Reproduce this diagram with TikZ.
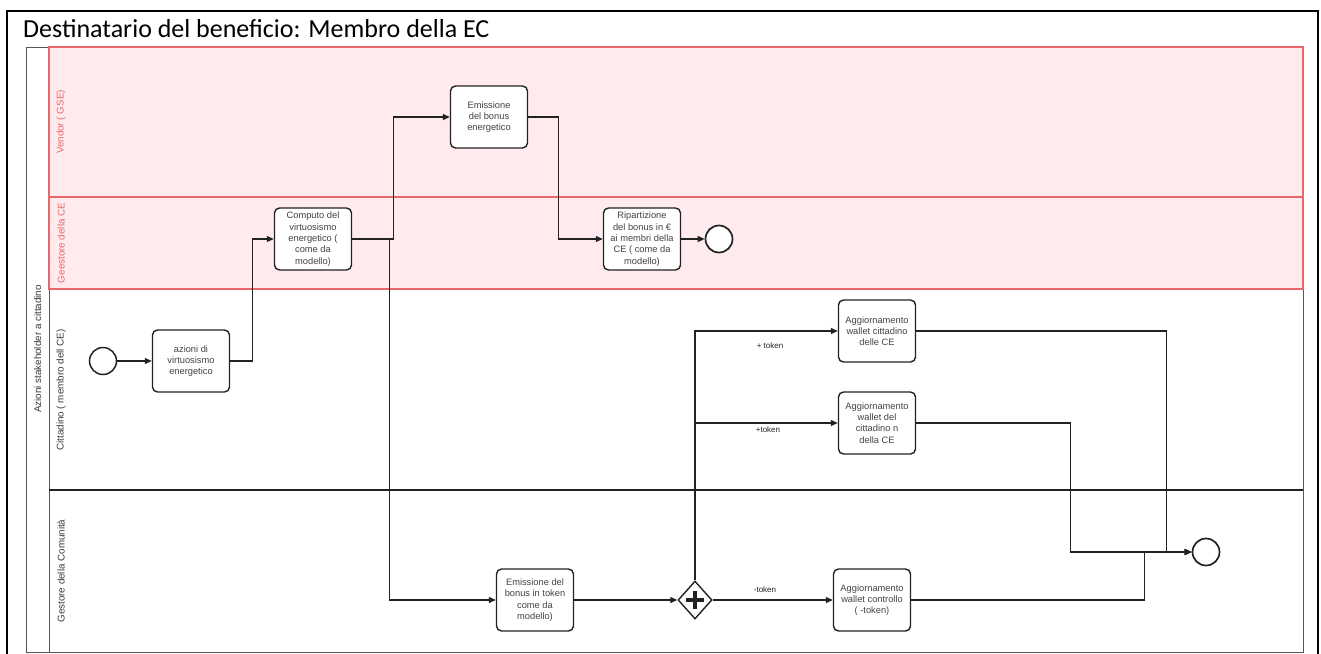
\documentclass[tikz,border=0pt]{standalone}
\usepackage{fontspec}
\setmainfont{Liberation Sans}
\newfontfamily\titlefont{Carlito}
\usetikzlibrary{arrows.meta,shapes.geometric}
\definecolor{lanered}{HTML}{E8676B}
\definecolor{lanepink}{HTML}{FFEBEE}
\definecolor{ink}{HTML}{222222}
\definecolor{poolgray}{HTML}{555555}
\begin{document}
\begin{tikzpicture}[x=1pt,y=-1pt,
  task/.style={draw=ink, line width=1.4pt, rounded corners=5pt, fill=white,
    minimum width=77pt, minimum height=62pt, inner sep=1pt, align=center,
    font=\fontsize{9.3}{11.3}\selectfont, text=ink!85},
  event/.style={circle, draw=ink, line width=1.7pt, fill=white,
    minimum size=27pt, inner sep=0pt},
  flow/.style={draw=ink, line width=1.2pt, -{Triangle[length=7pt,width=6pt]}},
  lanelabel/.style={rotate=90, font=\fontsize{9.8}{12}\selectfont, text=ink!90},
  edgelabel/.style={font=\fontsize{8}{10}\selectfont, text=ink, inner sep=0pt}
]
\useasboundingbox (0,0) rectangle (1321,653);
\fill[white] (0,0) rectangle (1321,653);

% outer frame and heading
\draw[line width=2pt] (7,670) -- (7,11) -- (1318,11) -- (1318,670);
\node[anchor=base west, font=\titlefont\fontsize{26}{30}\selectfont, inner sep=0pt]
  (title) at (23,37) {Destinatario del beneficio: Membro della EC};

% pool and lanes
\fill[lanepink] (49,47) rectangle (1303,289);
\draw[poolgray, line width=1pt] (26,47) rectangle (1303,652);
\draw[poolgray, line width=1pt] (49,47) -- (49,652);
\draw[ink, line width=1.3pt] (49,490) -- (1303,490);
\draw[lanered, line width=1.2pt] (49,47) rectangle (1303,197);
\draw[lanered, line width=1.2pt] (49,197) rectangle (1303,289);

\node[lanelabel] (pool) at (37.5,349) {Azioni stakeholder a cittadino};
\node[lanelabel, text=lanered] (l1) at (61,122) {Vendor ( GSE)};
\node[lanelabel, text=lanered] (l2) at (61,243) {Geestore della CE};
\node[lanelabel] (l3) at (61,390) {Cittadino ( membro dell CE)};
\node[lanelabel] (l4) at (61,571) {Gestore della Comunit\`a};

% events
\node[event, line width=1.5pt] (start) at (103,361) {};
\node[event] (end1) at (719,239) {};
\node[event] (end2) at (1206,552) {};

% tasks
\node[task] (azioni) at (191,361) {azioni di\\virtuosismo\\energetico};
\node[task] (computo) at (313,239) {Computo del\\virtuosismo\\energetico (\\come da\\modello)};
\node[task] (emis) at (489,117) {Emissione\\del bonus\\energetico};
\node[task] (ripart) at (642,239) {Ripartizione\\del bonus in \texteuro\\ai membri della\\CE ( come da\\modello)};
\node[task] (etoken) at (535,600) {Emissione del\\bonus in token\\come da\\modello)};
\node[task] (wa1) at (877,331) {Aggiornamento\\wallet cittadino\\delle CE};
\node[task] (wa2) at (877,423) {Aggiornamento\\wallet del\\cittadino n\\della CE};
\node[task] (wa3) at (872,600) {Aggiornamento\\wallet controllo\\( -token)};

% parallel gateway
\node[diamond, draw=ink, line width=1.4pt, fill=white, minimum width=34pt,
  minimum height=38pt, inner sep=0pt] (gw) at (695,600) {};
\draw[ink, line width=3.5pt] (gw.center) +(-9,0) -- +(9,0);
\draw[ink, line width=3.5pt] (gw.center) +(0,-9) -- +(0,9);

% sequence flows
\draw[flow] (start) -- (azioni);
\draw[flow] (azioni.east) -- ++(22,0) |- (computo.west);
\draw[flow] (computo.east) -- ++(41,0) |- (emis.west);
\draw[flow] (computo.east) -- ++(37,0) |- (etoken.west);
\draw[flow] (emis.east) -- ++(30,0) |- (ripart.west);
\draw[flow] (ripart) -- (end1);
\draw[flow] (etoken) -- (gw);
\draw[flow] (gw.north) |- (wa1.west);
\draw[flow] (gw.north) |- (wa2.west);
\draw[flow] (gw) -- (wa3);
\draw[flow] (wa1.east) -- ++(250,0) |- (end2.west);
\draw[flow] (wa2.east) -- ++(154,0) |- (end2.west);
\draw[flow] (wa3.east) -- ++(233,0) |- (end2.west);

% flow labels
\node[edgelabel] (t1) at (770,346) {+ token};
\node[edgelabel] (t2) at (768,430) {+token};
\node[edgelabel] (t3) at (765,590) {-token};
\end{tikzpicture}
\end{document}
